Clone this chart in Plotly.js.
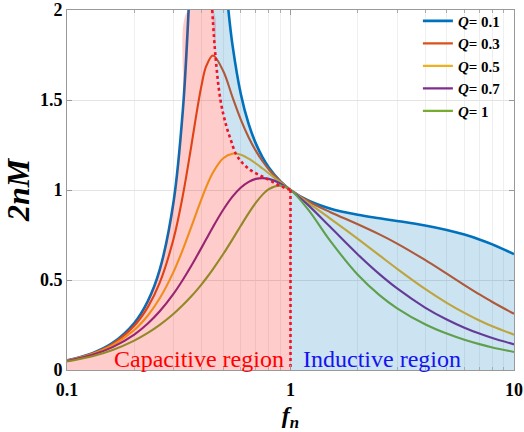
<!DOCTYPE html>
<html>
<head>
<meta charset="utf-8">
<script src="https://cdn.plot.ly/plotly-3.0.1.min.js"></script>
<style>html,body{margin:0;padding:0;background:#fff;}#plot{width:524px;height:432px;}</style>
</head>
<body>
<div id="plot"></div>
<script>
// normalized frequency grid shared by Q = 0.3 ... 1
const fn = [0.1,0.13,0.16,0.2,0.23,0.26,0.3,0.33,0.36,0.38,0.4,0.42,0.45,0.5,0.55,0.6,0.65,0.7,0.75,0.8,0.9,1,1.2,1.5,2,2.5,3,4,5,6,7,8,10];
// Q = 0.1 uses a denser grid around its resonance peak
const fnQ01 = [0.1,0.13,0.16,0.2,0.23,0.26,0.3,0.33,0.35,0.36,0.38,0.4,0.408,0.42,0.45,0.5,0.527,0.55,0.6,0.65,0.7,0.75,0.8,0.9,1,1.2,1.5,2,2.5,3,4,5,6,7,8,10];
const gainQ01 = [0.0531,0.0938,0.1506,0.2611,0.3827,0.5572,0.9379,1.4462,2.0,2.382,3.43,4.632,4.894,4.831,3.616,2.341,2.004,1.8065,1.5309,1.3661,1.2576,1.1814,1.1253,1.049,1,0.9418,0.8975,0.8623,0.8427,0.8281,0.803,0.7782,0.7523,0.7254,0.698,0.6435];
const gainQ03 = [0.0525,0.0920,0.1458,0.2461,0.3495,0.4851,0.7307,0.9708,1.2459,1.4275,1.5823,1.6893,1.7470,1.6609,1.5161,1.3898,1.2920,1.2173,1.1596,1.1139,1.0469,1,0.9374,0.8781,0.8098,0.7535,0.7024,0.6113,0.5349,0.4720,0.4203,0.3776,0.3122];
const gainQ05 = [0.0514,0.0886,0.1374,0.2225,0.3029,0.3982,0.5468,0.6701,0.7956,0.8763,0.9513,1.0176,1.0977,1.1765,1.2018,1.1954,1.1741,1.1473,1.1193,1.0922,1.0428,1,0.9287,0.8427,0.7284,0.6367,0.5621,0.4506,0.3732,0.3173,0.2754,0.2430,0.1963];
const gainQ07 = [0.0499,0.0842,0.1271,0.1971,0.2585,0.3263,0.4243,0.5015,0.5790,0.6300,0.6799,0.7277,0.7947,0.8900,0.9630,1.0139,1.0455,1.0617,1.0661,1.0619,1.0368,1,0.9160,0.7968,0.6422,0.5326,0.4531,0.3471,0.2805,0.2350,0.2022,0.1773,0.1422];
const gainQ10 = [0.0471,0.0766,0.1112,0.1633,0.2058,0.2504,0.3124,0.3605,0.4094,0.4425,0.4761,0.5097,0.5604,0.6442,0.7258,0.8024,0.8712,0.9293,0.9743,1.0050,1.0244,1,0.8907,0.7200,0.5291,0.4162,0.3430,0.2542,0.2022,0.1679,0.1437,0.1255,0.1003];
// boundary between capacitive and inductive region (red dotted line)
const boundFn = [0.4465,0.462,0.486,0.515,0.54,0.57,0.61,0.66,0.72,0.79,0.86,0.93,1.0];
const boundM  = [2.0,1.74,1.5,1.36,1.28,1.2,1.15,1.112,1.085,1.06,1.035,1.015,1.0];

const seriesNames = ['0.1','0.3','0.5','0.7','1'];
const seriesColors = ['#0072BD','#D95319','#EDB120','#7E2F8E','#77AC30'];
const yTop = 2;
const FONT = 'Liberation Serif';

const traces = [];
const allY = [gainQ01, gainQ03, gainQ05, gainQ07, gainQ10];
allY.forEach((ys, i) => {
  traces.push({
    x: i === 0 ? fnQ01 : fn, y: ys, type: 'scatter', mode: 'lines',
    name: '<b><i>Q</i>= ' + seriesNames[i] + '</b>',
    line: {color: seriesColors[i], width: i === 0 ? 2.6 : 2.1, shape: 'spline'},
    hoverinfo: 'skip'
  });
});

// pink capacitive fill: left branch of Q=0.1 up to the top, then boundary line
const leftIdx = fnQ01.map((f, i) => i).filter(i => fnQ01[i] <= 0.35);
const pinkX = leftIdx.map(i => fnQ01[i]).concat(boundFn);
const pinkY = leftIdx.map(i => Math.min(gainQ01[i], yTop)).concat(boundM);
traces.push({x: pinkX, y: pinkY, type: 'scatter', mode: 'none', fill: 'tozeroy',
  fillcolor: 'rgba(255,0,0,0.2)', line: {shape: 'spline', width: 0}, showlegend: false, hoverinfo: 'skip'});

// blue inductive fill, part 1: between boundary and Q=0.1 right branch
traces.push({x: boundFn, y: boundM, type: 'scatter', mode: 'lines',
  line: {shape: 'spline', width: 0, color: 'rgba(0,0,0,0)'}, showlegend: false, hoverinfo: 'skip'});
const midIdx = fnQ01.map((f, i) => i).filter(i => fnQ01[i] >= 0.45 && fnQ01[i] <= 1);
traces.push({x: midIdx.map(i => fnQ01[i]), y: midIdx.map(i => gainQ01[i]), type: 'scatter', mode: 'lines',
  fill: 'tonexty', fillcolor: 'rgba(0,114,189,0.2)', line: {shape: 'spline', width: 0, color: 'rgba(0,0,0,0)'},
  showlegend: false, hoverinfo: 'skip'});
// blue inductive fill, part 2: under Q=0.1 for fn >= 1
const rightIdx = fnQ01.map((f, i) => i).filter(i => fnQ01[i] >= 1);
traces.push({x: rightIdx.map(i => fnQ01[i]), y: rightIdx.map(i => gainQ01[i]), type: 'scatter', mode: 'none',
  fill: 'tozeroy', fillcolor: 'rgba(0,114,189,0.2)', line: {shape: 'spline', width: 0}, showlegend: false, hoverinfo: 'skip'});

// red dotted boundary
const dotColor = 'rgb(238,20,40)';
traces.push({x: boundFn, y: boundM, type: 'scatter', mode: 'lines',
  line: {color: dotColor, width: 2.6, dash: 'dot', shape: 'spline'}, showlegend: false, hoverinfo: 'skip'});
const lastF = boundFn[boundFn.length - 1], lastM = boundM[boundM.length - 1];
traces.push({x: [lastF, lastF], y: [lastM, 0], type: 'scatter', mode: 'lines',
  line: {color: dotColor, width: 2.6, dash: 'dot'}, showlegend: false, hoverinfo: 'skip'});

const minorVals = [];
[0.1, 1].forEach(d => { for (let k = 2; k <= 9; k++) minorVals.push(k * d); });

const tickFont = {family: FONT, size: 18, color: '#000', weight: 'bold'};
const layout = {
  width: 524, height: 432,
  font: {family: FONT},
  margin: {l: 66.5, r: 10, t: 10, b: 62, autoexpand: false},
  paper_bgcolor: '#fff', plot_bgcolor: '#fff',
  showlegend: true,
  legend: {x: 0.785, y: 1.015, xanchor: 'left', yanchor: 'top', bgcolor: 'rgba(0,0,0,0)', traceorder: 'normal',
    font: {family: FONT, size: 15, color: '#000', weight: 'bold'}, tracegroupgap: 0},
  xaxis: {
    type: 'log', range: [-1, 1],
    tickmode: 'array', tickvals: [0.1, 1, 10], ticktext: ['0.1', '1', '10'],
    ticks: 'inside', ticklen: 5, tickcolor: '#999', showline: true, linecolor: '#999', linewidth: 1,
    mirror: 'allticks', showgrid: true, gridcolor: '#e3e3e3', zeroline: false,
    minor: {tickmode: 'array', tickvals: minorVals, ticks: 'inside', ticklen: 3, tickcolor: '#aaa', showgrid: true, gridcolor: '#efefef'},
    tickfont: tickFont, ticklabelstandoff: 3,
    title: {text: '<b><i>f<sub>n</sub></i></b>', font: {family: FONT, size: 24, color: '#000'}, standoff: 10}
  },
  yaxis: {
    range: [0, yTop], tickmode: 'array', tickvals: [0, 0.5, 1, 1.5, 2], ticktext: ['0', '0.5', '1', '1.5', '2'],
    ticks: 'inside', ticklen: 5, tickcolor: '#999', showline: true, linecolor: '#999', linewidth: 1,
    mirror: 'allticks', showgrid: true, gridcolor: '#e3e3e3', zeroline: false,
    tickfont: tickFont,
    title: {text: '<b><i>2nM</i></b>', font: {family: FONT, size: 32, color: '#000'}, standoff: 8}
  },
  annotations: [
    {x: 0, xref: 'x', y: 0, yref: 'paper', xanchor: 'right', yanchor: 'bottom', xshift: -5, yshift: -4,
     text: 'Capacitive region', showarrow: false, font: {family: FONT, size: 24, color: 'rgb(255,0,0)'}},
    {x: 0, xref: 'x', y: 0, yref: 'paper', xanchor: 'left', yanchor: 'bottom', xshift: 10, yshift: -4,
     text: 'Inductive region', showarrow: false, font: {family: FONT, size: 24, color: 'rgb(20,20,240)'}}
  ]
};
Plotly.newPlot('plot', traces, layout, {displayModeBar: false, staticPlot: true});
</script>
</body>
</html>
